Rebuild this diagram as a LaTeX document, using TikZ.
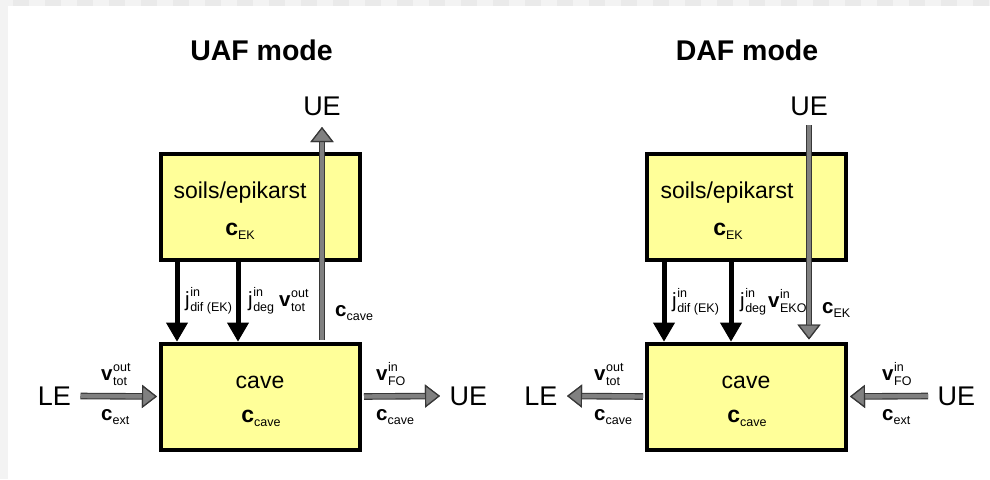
\documentclass[tikz,border=0pt]{standalone}
\usepackage{fontspec}
\setmainfont{Liberation Sans}
\usetikzlibrary{arrows.meta}
\definecolor{boxyellow}{RGB}{255,255,153}
\definecolor{flowgray}{RGB}{128,128,128}
\definecolor{edgegray}{RGB}{55,55,55}
\definecolor{stripa}{RGB}{243,243,243}
\definecolor{stripb}{RGB}{234,234,234}
\newcommand{\subfont}{\fontsize{12.5}{12.5}\selectfont}
\newcommand{\qsub}[2]{\textbf{#1}\raisebox{-4pt}{\subfont #2}}
\newcommand{\qboth}[3]{#1\kern0.5pt\raisebox{-5pt}{\subfont\begin{tabular}[b]{@{}l@{}}#2\\[1.5pt]#3\end{tabular}}}
\tikzset{
  box/.style={draw, line width=4pt, fill=boxyellow, minimum width=199pt, minimum height=106pt, inner sep=0pt},
  boxtxt/.style={font=\fontsize{23}{25}\selectfont, inner sep=0pt, anchor=base},
  title/.style={font=\fontsize{28.5}{30}\selectfont\bfseries, inner sep=0pt, anchor=base},
  endlab/.style={font=\fontsize{27}{29}\selectfont, inner sep=9.5pt},
  qlab/.style={font=\fontsize{20.5}{22}\selectfont, inner sep=0pt, anchor=base west},
  fluxarrow/.style={line width=5pt, -{Triangle[width=22pt,length=19pt,line width=1pt]}},
  graytip/.style={-{Triangle[width=23pt,length=15pt,line width=1.2pt,fill=flowgray,color=edgegray]}},
  grayarrow/.style={draw=flowgray, line width=4.4pt, graytip,
    preaction={draw=edgegray, line width=6.6pt, graytip}}
}

\begin{document}
\begin{tikzpicture}[x=1pt,y=-1pt]
    \useasboundingbox (0,0) rectangle (990,479);
    \fill[white] (0,0) rectangle (990,479);
    \fill[stripa] (0,0) rectangle (8,479);
    \fill[stripa] (0,0) rectangle (990,6);
    \foreach \i in {0,...,30} \fill[stripb] (13+32*\i,0) rectangle (29+32*\i,6);

    % UAF mode
    \node[title] (titleU) at (261.5,60) {UAF mode};
    \node[box] (epiU) at (260.5,207) {};
    \node[box] (caveU) at (260.5,396.5) {};
    \node[boxtxt] (soilU) at (240,198) {soils/epikarst};
    \node[boxtxt] (cekU) at (240,235) {\qsub{c}{EK}};
    \node[boxtxt] (cavetxtU) at (260,388) {cave};
    \node[boxtxt] (ccaveU) at (261,422) {\qsub{c}{cave}};
    \node[endlab, inner sep=0pt, anchor=base] (ueTU) at (322,115) {UE};
    \node[endlab, anchor=east] (leU) at (80.5,396) {LE};
    \node[endlab, anchor=west] (ueRU) at (440,396) {UE};
    \draw[fluxarrow] ([xshift=-83.5pt]epiU.south) -- ([xshift=-83.5pt]caveU.north);
    \draw[fluxarrow] ([xshift=-22.5pt]epiU.south) -- ([xshift=-22.5pt]caveU.north);
    \draw[grayarrow] ([xshift=61.5pt,yshift=2pt]caveU.north) -- ([yshift=-12pt]ueTU.base);
    \draw[grayarrow] (leU.east) -- ([xshift=-2pt]caveU.west);
    \draw[grayarrow] ([xshift=2pt]caveU.east) -- (ueRU.west);
    \node[qlab] (jdifU) at (185,306) {\qboth{j}{in}{dif (EK)}};
    \node[qlab] (jdegU) at (248,306) {\qboth{j}{in}{deg}};
    \node[qlab] (vtotU) at (279,306) {\qboth{\textbf{v}}{out}{tot}};
    \node[qlab] (cmidU) at (335,316) {\qsub{c}{cave}};
    \node[qlab] (vinU) at (101,380) {\qboth{\textbf{v}}{out}{tot}};
    \node[qlab] (cextU) at (101,420) {\qsub{c}{ext}};
    \node[qlab] (vfoU) at (376,380) {\qboth{\textbf{v}}{in}{FO}};
    \node[qlab] (coutU) at (376,420) {\qsub{c}{cave}};

    % DAF mode
    \node[title] (titleD) at (747,60) {DAF mode};
    \node[box] (epiD) at (746.5,207) {};
    \node[box] (caveD) at (746.5,396.5) {};
    \node[boxtxt] (soilD) at (727,198) {soils/epikarst};
    \node[boxtxt] (cekD) at (728,235) {\qsub{c}{EK}};
    \node[boxtxt] (cavetxtD) at (746,388) {cave};
    \node[boxtxt] (ccaveD) at (747,422) {\qsub{c}{cave}};
    \node[endlab, inner sep=0pt, anchor=base] (ueTD) at (809,115) {UE};
    \node[endlab, anchor=east] (leD) at (567,396) {LE};
    \node[endlab, anchor=west] (ueRD) at (928,396) {UE};
    \draw[fluxarrow] ([xshift=-82.5pt]epiD.south) -- ([xshift=-82.5pt]caveD.north);
    \draw[fluxarrow] ([xshift=-15.5pt]epiD.south) -- ([xshift=-15.5pt]caveD.north);
    \draw[grayarrow] ([yshift=-10pt]ueTD.base) -- ([xshift=62.5pt,yshift=2pt]caveD.north);
    \draw[grayarrow] ([xshift=-2pt]caveD.west) -- (leD.east);
    \draw[grayarrow] (ueRD.west) -- ([xshift=2pt]caveD.east);
    \node[qlab] (jdifD) at (672,307) {\qboth{j}{in}{dif (EK)}};
    \node[qlab] (jdegD) at (740,307) {\qboth{j}{in}{deg}};
    \node[qlab] (vekoD) at (768,307) {\qboth{\textbf{v}}{in}{EKO}};
    \node[qlab] (cmidD) at (822,313) {\qsub{c}{EK}};
    \node[qlab] (vtotD) at (594,380) {\qboth{\textbf{v}}{out}{tot}};
    \node[qlab] (coutD) at (594,420) {\qsub{c}{cave}};
    \node[qlab] (vfoD) at (882,380) {\qboth{\textbf{v}}{in}{FO}};
    \node[qlab] (cextD) at (882,420) {\qsub{c}{ext}};
\end{tikzpicture}
\end{document}
